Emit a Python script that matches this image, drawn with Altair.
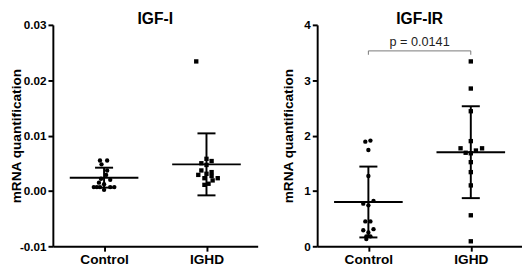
import altair as alt
import pandas as pd

groups = ["Control", "IGHD"]

# IGF-I panel
igf1_control = [0.0055, 0.0055, 0.0048, 0.0037, 0.0029, 0.0022, 0.0020, 0.0015,
                0.0012, 0.0007, 0.0007, 0.0007, 0.0007, 0.0007, 0.0002]
igf1_control_jit = [-0.04, 0.03, -0.025, 0.03, 0.02, -0.03, 0.06, -0.05,
                    0.0, -0.10, -0.07, -0.04, 0.06, 0.10, 0.0]
igf1_ighd = [0.0234, 0.0058, 0.0054, 0.0050, 0.0047, 0.0037, 0.0034, 0.0031,
             0.0029, 0.0027, 0.0023, 0.0023, 0.0019, 0.0013, 0.0011]
igf1_ighd_jit = [-0.10, 0.0, 0.05, -0.05, 0.0, -0.05, 0.05, 0.0,
                 -0.08, 0.05, -0.02, 0.11, 0.06, 0.02, -0.02]
igf1_mean = [0.0024, 0.0048]
igf1_sd = [0.0018, 0.0056]

# IGF-IR panel
igfr_control = [1.91, 1.89, 1.74, 1.27, 0.82, 0.77, 0.74, 0.45, 0.45,
                0.31, 0.29, 0.25, 0.18, 0.18, 0.13]
igfr_control_jit = [0.02, -0.03, 0.0, 0.0, 0.05, -0.05, 0.0, -0.03, 0.02,
                    0.05, -0.05, 0.0, 0.02, -0.02, -0.02]
igfr_ighd = [3.34, 2.85, 2.44, 1.90, 1.77, 1.77, 1.73, 1.69, 1.68,
             1.52, 1.34, 1.10, 0.56, 0.09]
igfr_ighd_jit = [0.0, 0.0, 0.0, 0.0, -0.10, 0.11, 0.05, -0.05, 0.0,
                 0.0, 0.0, 0.0, 0.0, 0.0]
igfr_mean = [0.80, 1.70]
igfr_sd = [0.64, 0.83]

p_label = "p = 0.0141"
bracket_level = 3.53
bracket_drop = 3.46

FONT = "Liberation Sans"
W, H = 210, 227


def panel(title, ctrl, ctrl_j, ighd, ighd_j, means, sds, ydomain, yvalues,
          labexpr, title_x, bracket=None):
    pts = pd.DataFrame({
        "group": [groups[0]] * len(ctrl) + [groups[1]] * len(ighd),
        "idx": [0] * len(ctrl) + [1] * len(ighd),
        "value": ctrl + ighd,
        "jit": ctrl_j + ighd_j,
    })
    summ = pd.DataFrame({"idx": [0, 1], "mean": means, "sd": sds})

    xscale = alt.Scale(domain=[-0.5, 1.5], nice=False, zero=False)
    yscale = alt.Scale(domain=ydomain, nice=False, zero=False)

    xaxis = alt.Axis(values=[0, 1], title=None, grid=False,
                     labelExpr="datum.value == 0 ? 'Control' : 'IGHD'",
                     labelFontSize=14, labelPadding=2)
    yaxis = alt.Axis(values=yvalues, title="mRNA quantification", grid=False,
                     labelExpr=labexpr, titleX=title_x, titleFontSize=14)

    points = alt.Chart(pts).mark_point(filled=True, opacity=1, size=20, color="black").transform_calculate(
        x="datum.idx + datum.jit"
    ).encode(
        x=alt.X("x:Q", scale=xscale, axis=xaxis),
        y=alt.Y("value:Q", scale=yscale, axis=yaxis),
        shape=alt.Shape("group:N", scale=alt.Scale(domain=groups, range=["circle", "square"]), legend=None),
    )

    base = alt.Chart(summ).transform_calculate(
        lo="datum.mean - datum.sd", hi="datum.mean + datum.sd",
        ml="datum.idx - 0.335", mr="datum.idx + 0.335",
        cl="datum.idx - 0.088", cr="datum.idx + 0.088",
    )
    meanline = base.mark_rule(color="black", strokeWidth=2).encode(
        x=alt.X("ml:Q", scale=xscale), x2="mr:Q", y=alt.Y("mean:Q", scale=yscale))
    vline = base.mark_rule(color="black", strokeWidth=2).encode(
        x=alt.X("idx:Q", scale=xscale), y=alt.Y("lo:Q", scale=yscale), y2="hi:Q")
    capt = base.mark_rule(color="black", strokeWidth=2).encode(
        x=alt.X("cl:Q", scale=xscale), x2="cr:Q", y=alt.Y("hi:Q", scale=yscale))
    capb = base.mark_rule(color="black", strokeWidth=2).encode(
        x=alt.X("cl:Q", scale=xscale), x2="cr:Q", y=alt.Y("lo:Q", scale=yscale))

    layers = [meanline, vline, capt, capb, points]

    if bracket is not None:
        bdf = pd.DataFrame({"a": [0], "b": [1], "lev": [bracket[0]], "drop": [bracket[1]],
                            "mid": [0.5], "txt": [bracket[2]]})
        bc = alt.Chart(bdf)
        hl = bc.mark_rule(color="#777777", strokeWidth=1).encode(
            x=alt.X("a:Q", scale=xscale), x2="b:Q", y=alt.Y("lev:Q", scale=yscale))
        t1 = bc.mark_rule(color="#777777", strokeWidth=1).encode(
            x=alt.X("a:Q", scale=xscale), y=alt.Y("drop:Q", scale=yscale), y2="lev:Q")
        t2 = bc.mark_rule(color="#777777", strokeWidth=1).encode(
            x=alt.X("b:Q", scale=xscale), y=alt.Y("drop:Q", scale=yscale), y2="lev:Q")
        tx = bc.mark_text(font=FONT, fontSize=13, color="#222222", baseline="bottom", dy=-2).encode(
            x=alt.X("mid:Q", scale=xscale), y=alt.Y("lev:Q", scale=yscale), text="txt:N")
        layers = [hl, t1, t2, tx] + layers

    return alt.layer(*layers).properties(
        width=W, height=H,
        title=alt.TitleParams(title, fontSize=16, fontWeight="bold", font=FONT,
                              anchor="middle", offset=-8, color="black"),
    )


left = panel("IGF-I", igf1_control, igf1_control_jit, igf1_ighd, igf1_ighd_jit,
             igf1_mean, igf1_sd, [-0.01, 0.03], [-0.01, 0.0, 0.01, 0.02, 0.03],
             "datum.value < 0 ? '-' + format(-datum.value, '.2f') : format(datum.value, '.2f')",
             -30)
right = panel("IGF-IR", igfr_control, igfr_control_jit, igfr_ighd, igfr_ighd_jit,
              igfr_mean, igfr_sd, [0, 4], [0, 1, 2, 3, 4],
              "format(datum.value, 'd')", -22,
              bracket=(bracket_level, bracket_drop, p_label))

chart = alt.hconcat(left, right, spacing=25).configure_view(stroke=None).configure_axis(
    domainColor="black", domainWidth=2, tickColor="black", tickWidth=2, tickSize=5,
    labelFont=FONT, labelFontWeight="bold", labelFontSize=12, labelColor="black",
    titleFont=FONT, titleFontWeight="bold", titleColor="black", labelPadding=2,
).properties(padding={"left": 2, "top": 0, "right": 0, "bottom": 0}, background="white")

chart.save("out.html", embed_options={"renderer": "svg", "actions": False})
